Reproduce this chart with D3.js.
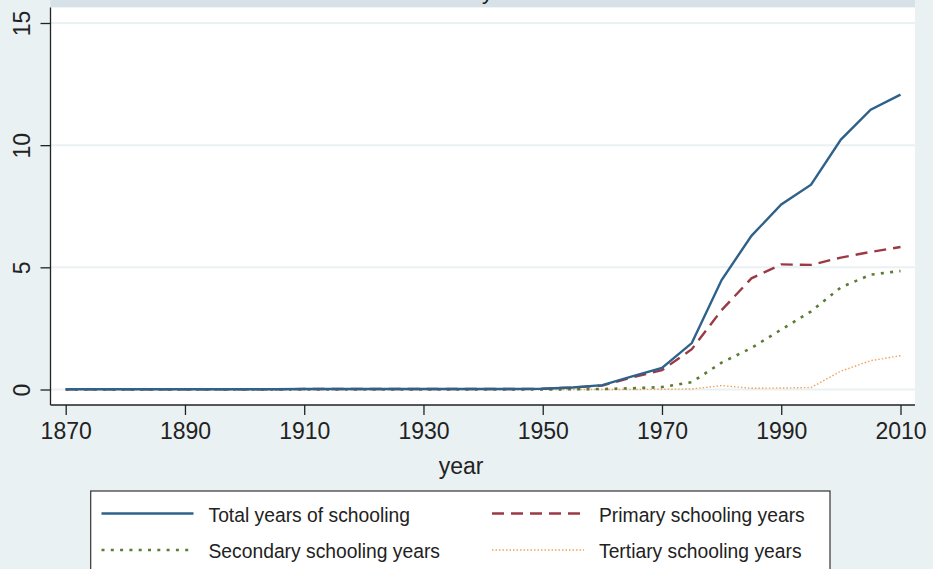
<!DOCTYPE html>
<html><head><meta charset="utf-8">
<script src="https://cdn.jsdelivr.net/npm/d3@7"></script>
<style>html,body{margin:0;padding:0;background:#EAF1F3;}svg{display:block;}</style>
</head><body>
<script>
const years = [1870,1875,1880,1885,1890,1895,1900,1905,1910,1915,1920,1925,1930,1935,1940,1945,1950,1955,1960,1965,1970,1975,1980,1985,1990,1995,2000,2005,2010];
const totalYears =     [0.01,0.01,0.01,0.01,0.01,0.01,0.01,0.01,0.02,0.02,0.02,0.02,0.02,0.02,0.02,0.02,0.03,0.08,0.18,0.54,0.88,1.90,4.48,6.29,7.57,8.38,10.23,11.45,12.07];
const primaryYears =   [0.01,0.01,0.01,0.01,0.01,0.01,0.01,0.01,0.02,0.02,0.02,0.02,0.02,0.02,0.02,0.02,0.03,0.08,0.16,0.50,0.79,1.65,3.25,4.55,5.12,5.10,5.40,5.63,5.83];
const secondaryYears = [0,0,0,0,0,0,0,0,0,0,0,0,0,0,0,0,0,0.01,0.02,0.05,0.10,0.30,1.10,1.70,2.45,3.20,4.18,4.70,4.85];
const tertiaryYears =  [0,0,0,0,0,0,0,0,0,0,0,0,0,0,0,0,0,0,0,0,0.01,0.02,0.16,0.05,0.06,0.08,0.75,1.18,1.38];
const xTicks = [1870,1890,1910,1930,1950,1970,1990,2010];
const yTicks = [0,5,10,15];
const seriesNames = ["Total years of schooling","Primary schooling years","Secondary schooling years","Tertiary schooling years"];
const titleText = "Average years of schooling";
const xTitle = "year";

const W = 933, H = 569;
const svg = d3.select("body").append("svg").attr("width", W).attr("height", H)
  .style("font-family", "'Liberation Sans', Arial, Helvetica, sans-serif");
svg.append("rect").attr("width", W).attr("height", H).attr("fill", "#EAF1F3");

const plotL = 50.5, plotR = 915, plotT = 7.5, plotB = 405;
const x = d3.scaleLinear().domain([1870, 2010]).range([65.7, 900.5]);
const y = d3.scaleLinear().domain([0, 15]).range([389.5, 23]);

// title band (title itself lies above the visible frame; only a descender peeks in)
svg.append("rect").attr("x", plotL).attr("y", 0).attr("width", plotR - plotL).attr("height", plotT).attr("fill", "#D6E2E8");
svg.append("defs").append("clipPath").attr("id", "titleClip")
  .append("rect").attr("x", 482).attr("y", 0).attr("width", 12).attr("height", 6);
const title = svg.append("text").attr("y", -1.5).attr("font-size", 22).attr("fill", "#111")
  .attr("clip-path", "url(#titleClip)").text(titleText);
const sub = title.node().getSubStringLength(0, 8);
title.attr("x", 487 - sub - 5);

// plot region
svg.append("rect").attr("x", plotL).attr("y", plotT).attr("width", plotR - plotL).attr("height", plotB - plotT).attr("fill", "#fff");

// gridlines
svg.append("g").selectAll("line").data(yTicks).join("line")
  .attr("x1", plotL).attr("x2", plotR).attr("y1", d => y(d)).attr("y2", d => y(d))
  .attr("stroke", "#EAF1F3").attr("stroke-width", 2);

// series
const series = [
  {name: seriesNames[0], values: totalYears, color: "#2E628B", width: 2.4, dash: null},
  {name: seriesNames[1], values: primaryYears, color: "#9B3A45", width: 2.4, dash: "12,7"},
  {name: seriesNames[2], values: secondaryYears, color: "#5C7C34", width: 2.6, dash: "3,6.3"},
  {name: seriesNames[3], values: tertiaryYears, color: "#F2A25A", width: 1.4, dash: "1.5,2"}
];
const line = d3.line().x((d, i) => x(years[i])).y(d => y(d));
svg.append("g").selectAll("path").data(series.slice().reverse()).join("path")
  .attr("d", s => line(s.values)).attr("fill", "none")
  .attr("stroke", s => s.color).attr("stroke-width", s => s.width)
  .attr("stroke-dasharray", s => s.dash);

// y axis
const yAxis = d3.axisLeft(y).tickValues(yTicks).tickSize(10).tickPadding(0).tickFormat(d3.format("d"));
const gy = svg.append("g").attr("transform", `translate(${plotL},0)`).call(yAxis);
gy.select(".domain").attr("d", `M0,${plotT}V${plotB}`).attr("stroke", "#222").attr("stroke-width", 1.3);
gy.selectAll(".tick line").attr("stroke", "#222").attr("stroke-width", 1.3);
gy.selectAll(".tick text").attr("font-size", 23).attr("fill", "#222").attr("font-family", null)
  .attr("text-anchor", "middle").attr("x", null).attr("dy", null)
  .attr("transform", "translate(-20.5,0) rotate(-90)").attr("y", 0);

// x axis
const xAxis = d3.axisBottom(x).tickValues(xTicks).tickSize(10).tickPadding(0).tickFormat(d3.format("d"));
const gx = svg.append("g").attr("transform", `translate(0,${plotB})`).call(xAxis);
gx.select(".domain").attr("d", `M${plotL},0H${plotR}`).attr("stroke", "#222").attr("stroke-width", 1.3);
gx.selectAll(".tick line").attr("stroke", "#222").attr("stroke-width", 1.3);
gx.selectAll(".tick text").attr("font-size", 23).attr("fill", "#222").attr("font-family", null)
  .attr("dy", null).attr("y", 34);

svg.append("text").attr("x", 461).attr("y", 474).attr("text-anchor", "middle")
  .attr("font-size", 23).attr("fill", "#222").text(xTitle);

// legend
svg.append("rect").attr("x", 90.7).attr("y", 491).attr("width", 830 - 90.7).attr("height", 100)
  .attr("fill", "#fff").attr("stroke", "#333").attr("stroke-width", 1.2);
const legPos = [[101.5, 513.5], [492, 513.5], [101.5, 550], [492, 550]];
const lg = svg.append("g").selectAll("g").data(series).join("g")
  .attr("transform", (s, i) => `translate(${legPos[i][0]},${legPos[i][1]})`);
lg.append("line").attr("x1", 0).attr("x2", 92).attr("y1", 0).attr("y2", 0)
  .attr("stroke", s => s.color).attr("stroke-width", s => s.width)
  .attr("stroke-dasharray", s => s.dash);
lg.append("text").attr("x", 107).attr("y", 8).attr("font-size", 19.3).attr("fill", "#222").text(s => s.name);
</script>
</body></html>
